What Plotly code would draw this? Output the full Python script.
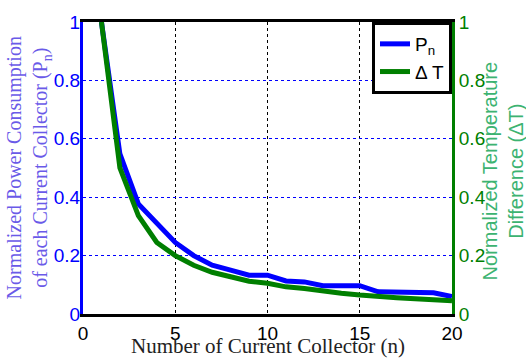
import plotly.graph_objects as go

n = list(range(1, 21))
p_n = [1.0, 0.548, 0.377, 0.31, 0.245, 0.20, 0.167, 0.15, 0.133, 0.133,
       0.113, 0.11, 0.097, 0.097, 0.097, 0.076, 0.075, 0.075, 0.073, 0.06]
delta_t = [1.0, 0.50, 0.337, 0.245, 0.20, 0.167, 0.143, 0.126, 0.112, 0.105,
           0.093, 0.087, 0.078, 0.071, 0.065, 0.059, 0.056, 0.052, 0.048, 0.045]
x_ticks = [0, 5, 10, 15, 20]
y_ticks = [0, 0.2, 0.4, 0.6, 0.8, 1]
y_tick_text = ["0", "0.2", "0.4", "0.6", "0.8", "1"]

fig = go.Figure()
fig.add_trace(go.Scatter(x=n, y=p_n, mode="lines", name="P<sub>n</sub>",
                         line=dict(color="#0000ff", width=5)))
fig.add_trace(go.Scatter(x=n, y=delta_t, mode="lines", name="Δ T", yaxis="y2",
                         line=dict(color="#007f00", width=5)))

tickfont = dict(family="Arial, Liberation Sans, sans-serif", size=19)

fig.update_layout(
    width=526, height=358,
    margin=dict(l=83, r=74, t=20, b=44),
    paper_bgcolor="white", plot_bgcolor="white",
    showlegend=True,
    legend=dict(x=1, y=1, xanchor="right", yanchor="top",
                bgcolor="white", bordercolor="black", borderwidth=3,
                font=dict(family="Arial, Liberation Sans, sans-serif", size=19, color="black"),
                tracegroupgap=0),
    xaxis=dict(range=[0, 20], tickvals=x_ticks, showgrid=True,
               gridcolor="black", griddash="dot", gridwidth=1,
               showline=True, linecolor="black", linewidth=3, mirror=True,
               zeroline=False, ticks="", ticklen=0,
               tickfont=dict(color="black", **tickfont)),
    yaxis=dict(range=[0, 1], tickvals=y_ticks, ticktext=y_tick_text, showgrid=True,
               gridcolor="#0000ff", griddash="dot", gridwidth=1,
               showline=True, linecolor="#0000ff", linewidth=3,
               zeroline=False, ticks="", ticklen=0, ticklabelstandoff=-4,
               tickfont=dict(color="#0000ff", **tickfont)),
    yaxis2=dict(range=[0, 1], tickvals=y_ticks, ticktext=y_tick_text, overlaying="y",
                side="right", showgrid=False,
                showline=True, linecolor="#007f00", linewidth=3,
                zeroline=False, ticks="", ticklen=0,
                tickfont=dict(color="#007f00", **tickfont)),
    annotations=[
        dict(text="Number of Current Collector (n)", xref="paper", yref="paper",
             x=0.5, y=-0.157, xanchor="center", yanchor="bottom", showarrow=False,
             font=dict(family="Liberation Serif, Times New Roman, serif", size=21, color="#222222")),
        dict(text="Normalized Power Consumption<br>of each Current Collector (P<sub>n</sub>)",
             xref="paper", yref="paper", x=-0.148, y=0.5, xanchor="center", yanchor="middle",
             textangle=-90, showarrow=False,
             font=dict(family="Liberation Serif, Times New Roman, serif", size=20, color="#6a5ae8")),
        dict(text="Normalized Temperature<br>Difference (ΔT)",
             xref="paper", yref="paper", x=1.137, y=0.49, xanchor="center", yanchor="middle",
             textangle=-90, showarrow=False,
             font=dict(family="Arial, Liberation Sans, sans-serif", size=20, color="#3cb371")),
    ],
)

fig.write_html("out.html")
